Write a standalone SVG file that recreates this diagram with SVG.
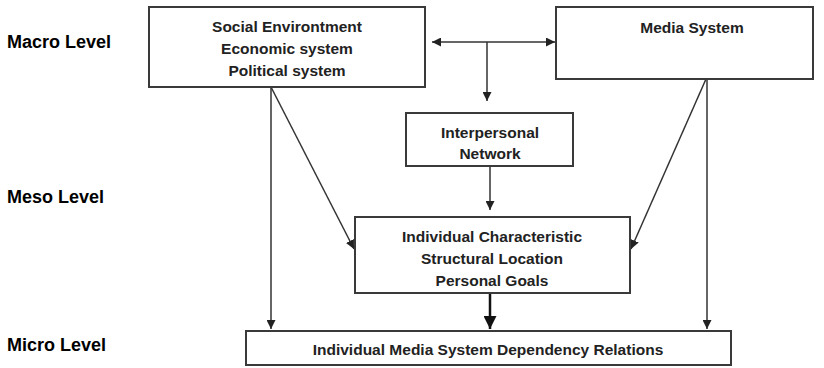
<svg xmlns="http://www.w3.org/2000/svg" width="824" height="368" viewBox="0 0 824 368">
<style>
.box{fill:#fff;stroke:#3a3a3a;stroke-width:2}
.t{font-family:"Liberation Sans",Arial,sans-serif;font-weight:bold;font-size:15.5px;fill:#222;text-anchor:middle}
.lvl{font-family:"Liberation Sans",Arial,sans-serif;font-weight:bold;font-size:18px;fill:#000}
.c{stroke:#333;stroke-width:1.5;fill:none}
</style>
<defs>
<marker id="ah" viewBox="0 0 10 10" refX="10" refY="5" markerWidth="9" markerHeight="9" markerUnits="userSpaceOnUse" orient="auto-start-reverse">
<path d="M0,0 L10,5 L0,10 z" fill="#222"/>
</marker>
<marker id="ahb" viewBox="0 0 10 10" refX="10" refY="5" markerWidth="13" markerHeight="13" markerUnits="userSpaceOnUse" orient="auto">
<path d="M0,0 L10,5 L0,10 z" fill="#111"/>
</marker>
</defs>
<rect width="824" height="368" fill="#fff"/>
<g id="levels">
<text class="lvl" x="7" y="48">Macro Level</text>
<text class="lvl" x="7" y="203">Meso Level</text>
<text class="lvl" x="7" y="351">Micro Level</text>
</g>
<g id="connectors">
<line class="c" x1="432" y1="42" x2="555" y2="42" marker-start="url(#ah)" marker-end="url(#ah)"/>
<line class="c" x1="487" y1="42" x2="487" y2="101" marker-end="url(#ah)"/>
<line class="c" x1="490" y1="166" x2="490" y2="210" marker-end="url(#ah)"/>
<line class="c" x1="271" y1="87" x2="271" y2="329" marker-end="url(#ah)"/>
<line class="c" x1="271" y1="87" x2="354" y2="249" marker-end="url(#ah)"/>
<line class="c" x1="707" y1="79" x2="707" y2="329" marker-end="url(#ah)"/>
<line class="c" x1="706" y1="79" x2="631" y2="249" marker-end="url(#ah)"/>
<line x1="490" y1="293" x2="490" y2="329" stroke="#111" stroke-width="2.5" marker-end="url(#ahb)"/>
</g>
<g id="social">
<rect class="box" x="149" y="7" width="276" height="80"/>
<text class="t" x="287" y="32">Social Environtment</text>
<text class="t" x="287" y="54">Economic system</text>
<text class="t" x="287" y="76">Political system</text>
</g>
<g id="media">
<rect class="box" x="556" y="7" width="257" height="72"/>
<text class="t" x="692" y="33">Media System</text>
</g>
<g id="interpersonal">
<rect class="box" x="406" y="113" width="167" height="53"/>
<text class="t" x="490" y="138">Interpersonal</text>
<text class="t" x="490" y="159">Network</text>
</g>
<g id="individual">
<rect class="box" x="355" y="217" width="275" height="76"/>
<text class="t" x="492" y="242">Individual Characteristic</text>
<text class="t" x="492" y="264">Structural Location</text>
<text class="t" x="492" y="286">Personal Goals</text>
</g>
<g id="dependency">
<rect class="box" x="246" y="331" width="485" height="34"/>
<text class="t" x="488" y="355">Individual Media System Dependency Relations</text>
</g>
</svg>
